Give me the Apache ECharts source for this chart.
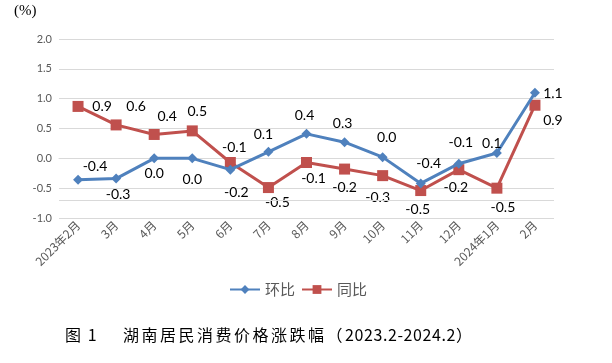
<!DOCTYPE html>
<html><head><meta charset="utf-8">
<script src="https://cdn.jsdelivr.net/npm/echarts@6/dist/echarts.min.js"></script>
<style>html,body{margin:0;padding:0;background:#fff}#c{width:612px;height:363px}</style>
</head><body><div id="c"></div>
<script>
const categories = ['2023年2月','3月','4月','5月','6月','7月','8月','9月','10月','11月','12月','2024年1月','2月'];
const momValues = [-0.36,-0.34,0.0,0.0,-0.19,0.11,0.41,0.27,0.02,-0.42,-0.09,0.09,1.1];
const yoyValues = [0.87,0.56,0.4,0.46,-0.07,-0.49,-0.07,-0.18,-0.29,-0.54,-0.19,-0.5,0.89];
const yTicks = [-1.0,-0.5,0.0,0.5,1.0,1.5,2.0];
const momName = '环比', yoyName = '同比';
const captionHead = '图 1';
const captionBody = '湖南居民消费价格涨跌幅（2023.2-2024.2）';
const unitText = '(%)';

const momOff = [[17,-13],[2,16],[0,15],[0,21],[6,23],[-5,-17],[-2,-18],[-2,-19],[4,-20],[8,-20],[2,-21],[-5,-9],[18,1]];
const yoyOff = [[24,0],[20,-18],[13,-18],[5,-19],[4,-15],[9,15],[7,16],[0,18],[-5,22],[-3,19],[-3,18],[6,19],[18,15]];
const labFont = {fontFamily:'Lato', fontSize:14, color:'#000'};
function build(vals, offs){
  return vals.map((v,i)=>({value:v, label:Object.assign({show:true, position:'inside', offset:offs[i], align:'center', verticalAlign:'middle', formatter:(p)=>p.value.toFixed(1)}, labFont)}));
}
// caption laid out char by char with letter spacing
const capFont = '16px "Noto Sans CJK SC"';
const mctx = document.createElement('canvas').getContext('2d');
mctx.font = capFont;
function spacedText(str, x0, y){
  const out = []; let x = x0;
  for (const ch of str){
    out.push({type:'text', x:x, y:y, style:{text:ch, font:capFont, fill:'#000', textVerticalAlign:'middle', verticalAlign:'middle'}});
    const wide = ch.charCodeAt(0) > 255;
    x += mctx.measureText(ch).width + (wide ? 2.5 : 0.6);
  }
  return out;
}
const capElems = spacedText(captionHead, 65, 335).concat(spacedText(captionBody, 123, 335));

const chart = echarts.init(document.getElementById('c'), null, {renderer:'canvas'});
chart.setOption({
  animation:false,
  backgroundColor:'#fff',
  grid:{left:59, right:58, top:39, bottom:145},
  legend:{data:[momName, yoyName], top:277, left:224, itemWidth:30, itemHeight:11, itemGap:6,
    textStyle:{fontFamily:'Noto Sans CJK SC', fontSize:15, color:'#595959'}},
  xAxis:{type:'category', data:categories, boundaryGap:true,
    axisLine:{show:true, lineStyle:{color:'#D9D9D9', width:1}}, axisTick:{show:false},
    axisLabel:{rotate:45, interval:0, margin:5, fontFamily:'Noto Sans CJK SC', fontSize:12, color:'#595959'}},
  yAxis:{type:'value', min:yTicks[0], max:yTicks[yTicks.length-1], interval:0.5,
    axisLine:{show:false}, axisTick:{show:false},
    splitLine:{lineStyle:{color:'#D9D9D9', width:1}},
    axisLabel:{margin:7, fontFamily:'Lato', fontSize:11, color:'#595959', formatter:(v)=>v.toFixed(1)}},
  series:[
    {name:momName, type:'line', data:build(momValues, momOff), symbol:'diamond', symbolSize:10,
     lineStyle:{color:'#4F81BD', width:3}, itemStyle:{color:'#4F81BD'}, z:3,
     markLine:{silent:true, symbol:'none', label:{show:false}, lineStyle:{color:'#D9D9D9', width:1, type:'solid'}, data:[{yAxis:-0.7}]}},
    {name:yoyName, type:'line', data:build(yoyValues, yoyOff), symbol:'rect', symbolSize:11,
     lineStyle:{color:'#C0504D', width:3}, itemStyle:{color:'#C0504D'}, z:2}
  ],
  graphic:[{type:'text', left:14, top:4, style:{text:unitText, font:'15px "Liberation Serif"', fill:'#000'}}].concat(capElems)
});
</script></body></html>
